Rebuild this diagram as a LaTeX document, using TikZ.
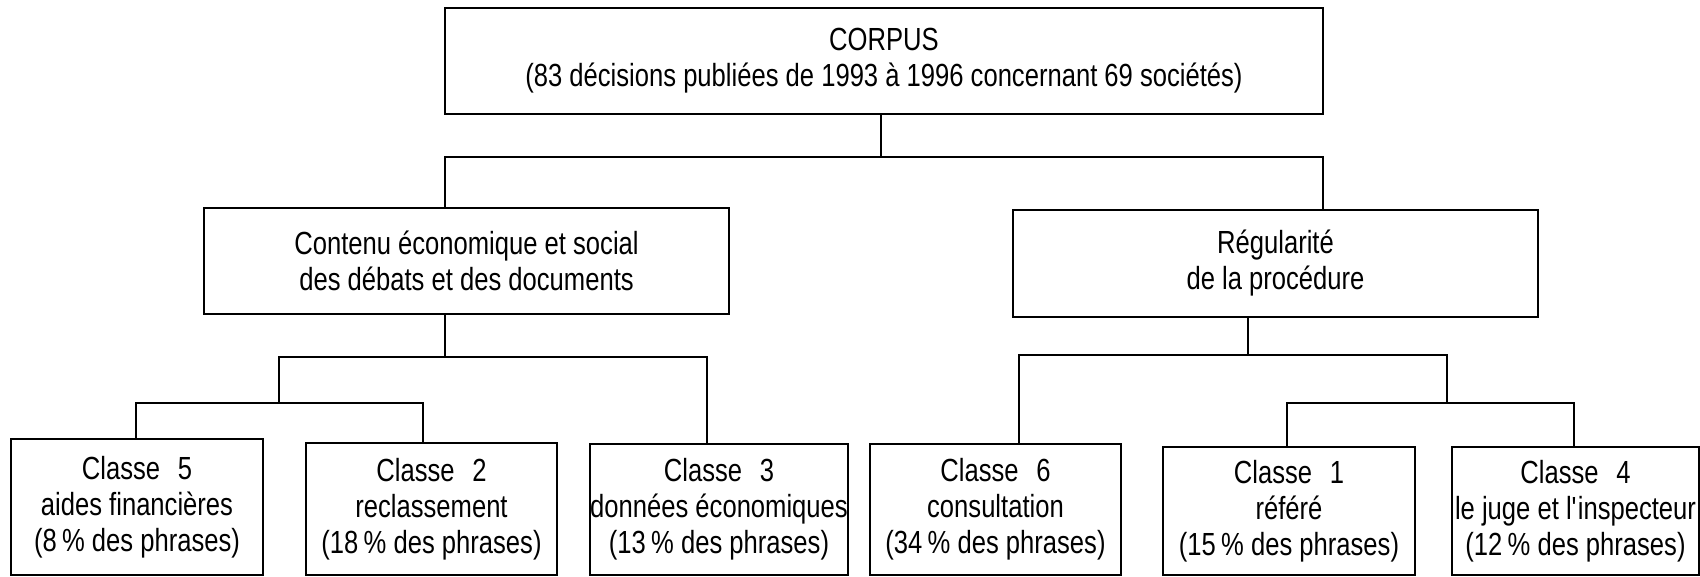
\documentclass[tikz,border=0pt]{standalone}
\usepackage{fontspec}
\setmainfont{Liberation Sans}[FakeStretch=0.80]
\begin{document}
\begin{tikzpicture}[x=1pt,y=-1pt,
  box/.style={draw=black, line width=1.8pt, inner sep=0pt, align=center,
    font=\fontsize{32}{36}\selectfont, text=black},
  conn/.style={draw=black, line width=1.1pt}]
\useasboundingbox (0,0) rectangle (1700,577);
% boxes
\node[box, minimum width=878, minimum height=106] (corpus) at (884,61)
  {CORPUS\\(83 décisions publiées de 1993 à 1996 concernant 69 sociétés)};
\node[box, minimum width=525, minimum height=106] (contenu) at (466.5,261)
  {Contenu économique et social\\des débats et des documents};
\node[box, minimum width=525, minimum height=107] (regul) at (1275.5,263.5)
  {Régularité\\de la procédure};
\node[box, minimum width=252, minimum height=136] (c5) at (137,507)
  {Classe\hspace{0.55em}5\\aides financières\\(8\,\% des phrases)};
\node[box, minimum width=251, minimum height=132] (c2) at (431.5,509)
  {Classe\hspace{0.55em}2\\reclassement\\(18\,\% des phrases)};
\node[box, minimum width=252, minimum height=131] (c3) at (719,509.5)
  {Classe\hspace{0.55em}3\\données économiques\\(13\,\% des phrases)};
\node[box, minimum width=251, minimum height=131] (c6) at (995.5,509.5)
  {Classe\hspace{0.55em}6\\consultation\\(34\,\% des phrases)};
\node[box, minimum width=252, minimum height=128] (c1) at (1289,511)
  {Classe\hspace{0.55em}1\\référé\\(15\,\% des phrases)};
\node[box, minimum width=247, minimum height=128] (c4) at (1575.5,511)
  {Classe\hspace{0.55em}4\\le juge et l\textquotesingle inspecteur\\(12\,\% des phrases)};
% junctions
\coordinate (jT) at (881,157);
\coordinate (jTL) at (445,157);
\coordinate (jTR) at (1323,157);
\coordinate (jL) at (445,357);
\coordinate (jLL) at (279,357);
\coordinate (jLR) at (707,357);
\coordinate (jLL2) at (279,403);
\coordinate (jA) at (136,403);
\coordinate (jB) at (423,403);
\coordinate (jR) at (1248,355);
\coordinate (jRL) at (1019,355);
\coordinate (jRR) at (1447,355);
\coordinate (jRR2) at (1447,403);
\coordinate (jC) at (1287,403);
\coordinate (jD) at (1574,403);
% connectors
\draw[conn] (corpus.south -| jT) -- (jT);
\draw[conn] (contenu.north -| jTL) -- (jTL) -- (jTR) -- (regul.north -| jTR);
\draw[conn] (contenu.south -| jL) -- (jL);
\draw[conn] (jLL2) -- (jLL) -- (jLR) -- (c3.north -| jLR);
\draw[conn] (c5.north -| jA) -- (jA) -- (jB) -- (c2.north -| jB);
\draw[conn] (regul.south -| jR) -- (jR);
\draw[conn] (c6.north -| jRL) -- (jRL) -- (jRR) -- (jRR2);
\draw[conn] (c1.north -| jC) -- (jC) -- (jD) -- (c4.north -| jD);
\end{tikzpicture}
\end{document}
